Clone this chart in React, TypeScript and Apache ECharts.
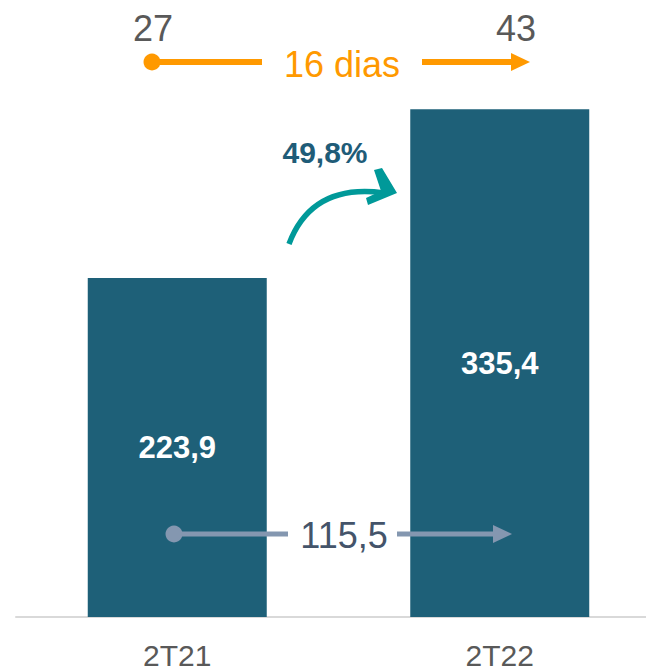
import React, { useEffect, useRef } from "react";
import * as echarts from "echarts";

const categories = ["2T21", "2T22"];
const values = [223.9, 335.4];
const growthLabel = "49,8%";
const daysStart = "27";
const daysEnd = "43";
const daysLabel = "16 dias";
const diffLabel = "115,5";

const fmt = (v: number) => v.toFixed(1).replace(".", ",");

export default function App() {
  const ref = useRef<HTMLDivElement>(null);
  useEffect(() => {
    const chart = echarts.init(ref.current!, undefined, { renderer: "svg" });
    const font = "Liberation Sans, Arial, sans-serif";
    const orange = "#FF9900";
    const slate = "#8497B0";
    const teal = "#009999";
    const Z = 100;
    chart.setOption({
      animation: false,
      grid: { left: 16, right: 0, top: 11.5, bottom: 50.5, containLabel: false },
      xAxis: {
        type: "category",
        data: categories,
        axisLine: { show: true, lineStyle: { color: "#D9D9D9", width: 2 } },
        axisTick: { show: false },
        axisLabel: { color: "#595959", fontSize: 30, fontFamily: font, margin: 23 },
      },
      yAxis: { type: "value", min: 0, max: 400, show: false, splitLine: { show: false } },
      series: [
        {
          type: "bar",
          data: values,
          barWidth: 179,
          itemStyle: { color: "#1E6078" },
          label: {
            show: true,
            position: "inside",
            color: "#FFFFFF",
            fontWeight: "bold",
            fontSize: 31,
            fontFamily: font,
            formatter: (p: any) => fmt(p.value),
          },
        },
      ],
      graphic: [
        { type: "text", z: Z, x: 153, y: 28, style: { text: daysStart, fill: "#595959", font: `36px ${font}`, align: "center", verticalAlign: "middle" } },
        { type: "text", z: Z, x: 516, y: 28, style: { text: daysEnd, fill: "#595959", font: `36px ${font}`, align: "center", verticalAlign: "middle" } },
        { type: "circle", z: Z, shape: { cx: 152, cy: 62, r: 8.5 }, style: { fill: orange } },
        { type: "line", z: Z, shape: { x1: 152, y1: 62, x2: 262, y2: 62 }, style: { stroke: orange, lineWidth: 6 } },
        { type: "line", z: Z, shape: { x1: 422, y1: 62, x2: 513, y2: 62 }, style: { stroke: orange, lineWidth: 6 } },
        { type: "polygon", z: Z, shape: { points: [[511, 53], [530, 62], [511, 71]] }, style: { fill: orange } },
        { type: "text", z: Z, x: 342, y: 64, style: { text: daysLabel, fill: orange, font: `36px ${font}`, align: "center", verticalAlign: "middle" } },
        { type: "text", z: Z, x: 325, y: 152, style: { text: growthLabel, fill: "#1F5C78", font: `bold 30px ${font}`, align: "center", verticalAlign: "middle" } },
        { type: "bezierCurve", z: Z, shape: { x1: 289, y1: 244, x2: 384, y2: 193, cpx1: 312, cpy1: 183 }, style: { stroke: teal, lineWidth: 5.5, fill: "none" } },
        { type: "polygon", z: Z, shape: { points: [[374, 170], [382, 168], [397, 193], [368, 205], [366, 198], [381, 191]] }, style: { fill: teal } },
        { type: "circle", z: Z, shape: { cx: 174, cy: 534, r: 8.5 }, style: { fill: slate } },
        { type: "line", z: Z, shape: { x1: 174, y1: 534, x2: 288, y2: 534 }, style: { stroke: slate, lineWidth: 5 } },
        { type: "line", z: Z, shape: { x1: 397, y1: 534, x2: 495, y2: 534 }, style: { stroke: slate, lineWidth: 5 } },
        { type: "polygon", z: Z, shape: { points: [[493, 525], [512, 534], [493, 543]] }, style: { fill: slate } },
        { type: "text", z: Z, x: 344, y: 535, style: { text: diffLabel, fill: "#44546A", font: `36px ${font}`, align: "center", verticalAlign: "middle" } },
      ],
    });
    return () => chart.dispose();
  }, []);
  return (
    <div style={{ position: "absolute", left: 0, top: 0, width: 646, height: 670, overflow: "hidden", background: "#fff" }}>
      <div ref={ref} style={{ width: 661, height: 670 }} />
    </div>
  );
}
